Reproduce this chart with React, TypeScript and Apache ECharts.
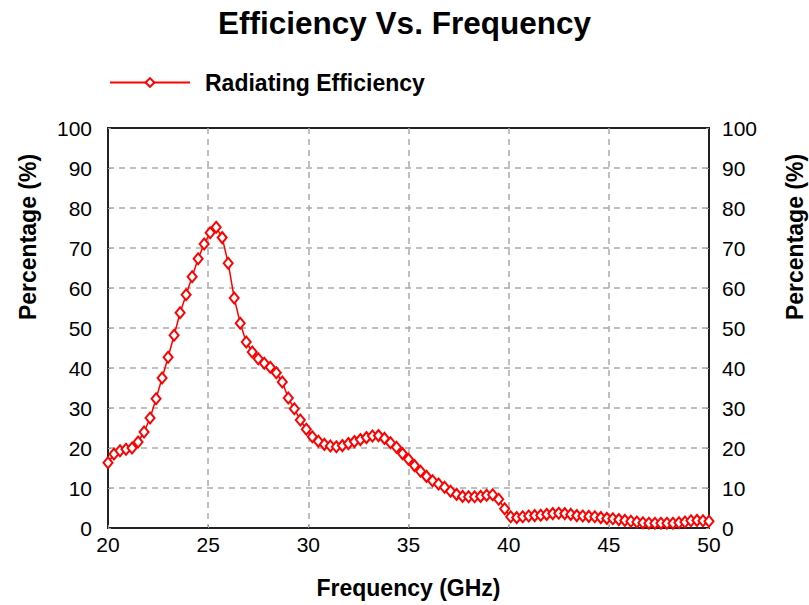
import React, { useEffect, useRef } from "react";
import * as echarts from "echarts";

// Sweep frequencies (GHz)
const frequencies: number[] = [
  20.0, 20.3, 20.6, 20.9, 21.2, 21.5, 21.8, 22.1, 22.4, 22.7,
  23.0, 23.3, 23.6, 23.9, 24.2, 24.5, 24.8, 25.1, 25.4, 25.7,
  26.0, 26.3, 26.6, 26.9, 27.2, 27.5, 27.8, 28.1, 28.4, 28.7,
  29.0, 29.3, 29.6, 29.9, 30.2, 30.5, 30.8, 31.1, 31.4, 31.7,
  32.0, 32.3, 32.6, 32.9, 33.2, 33.5, 33.8, 34.1, 34.4, 34.7,
  35.0, 35.3, 35.6, 35.9, 36.2, 36.5, 36.8, 37.1, 37.4, 37.7,
  38.0, 38.3, 38.6, 38.9, 39.2, 39.5, 39.8, 40.1, 40.4, 40.7,
  41.0, 41.3, 41.6, 41.9, 42.2, 42.5, 42.8, 43.1, 43.4, 43.7,
  44.0, 44.3, 44.6, 44.9, 45.2, 45.5, 45.8, 46.1, 46.4, 46.7,
  47.0, 47.3, 47.6, 47.9, 48.2, 48.5, 48.8, 49.1, 49.4, 49.7,
  50.0,
];

// Radiating efficiency (%)
const efficiency: number[] = [
  16.3, 18.5, 19.3, 19.7, 20.0, 21.5, 24.0, 27.5, 32.3, 37.5,
  42.7, 48.2, 53.8, 58.3, 62.8, 67.3, 71.0, 73.8, 75.2, 72.6,
  66.2, 57.5, 51.2, 46.5, 44.0, 42.3, 41.2, 40.2, 38.8, 36.5,
  32.5, 29.8, 27.0, 24.7, 22.8, 21.7, 20.9, 20.5, 20.3, 20.6,
  21.1, 21.6, 22.1, 22.6, 23.0, 23.1, 22.4, 21.3, 20.2, 18.6,
  17.2, 15.6, 14.2, 12.9, 11.8, 11.0, 10.2, 9.2, 8.4, 7.9,
  7.8, 7.8, 7.9, 8.2, 8.3, 7.2, 4.8, 2.8, 2.6, 2.8,
  3.0, 3.1, 3.2, 3.4, 3.6, 3.7, 3.6, 3.4, 3.1, 3.0,
  2.9, 2.8, 2.6, 2.4, 2.3, 2.1, 1.9, 1.7, 1.5, 1.3,
  1.2, 1.2, 1.2, 1.2, 1.2, 1.3, 1.5, 1.8, 1.9, 1.8,
  1.7,
];

const FONT = "'Liberation Sans', Arial, sans-serif";
const RED = "#ff0000";
const GRID_DASH = { color: "#aaaaaa", width: 1.5, type: [6, 5] as number[] };
const TICK_FONT = 21;
const NAME_FONT = 23;

export default function App() {
  const ref = useRef<HTMLDivElement>(null);

  useEffect(() => {
    if (!ref.current) return;
    const chart = echarts.init(ref.current, undefined, { renderer: "svg" });

    const points = frequencies.map((f, i) => [f, efficiency[i]]);

    const yAxisBase = {
      type: "value" as const,
      min: 0,
      max: 100,
      interval: 10,
      axisLine: { show: true, lineStyle: { color: "#222", width: 2 } },
      axisTick: { show: true, inside: true, length: 3, lineStyle: { color: "#999" } },
    };

    const yName = (x: number) => ({
      type: "text",
      x,
      y: 237,
      rotation: Math.PI / 2,
      style: {
        text: "Percentage (%)",
        fontSize: NAME_FONT,
        fontWeight: "bold",
        fill: "#000",
        fontFamily: FONT,
        align: "center",
        verticalAlign: "middle",
      },
    });

    chart.setOption({
      animation: false,
      backgroundColor: "#ffffff",
      title: {
        text: "Efficiency Vs. Frequency",
        left: "center",
        top: 2,
        textStyle: { fontSize: 31.5, fontWeight: "bold", color: "#000", fontFamily: FONT },
      },
      legend: {
        left: 104,
        top: 66,
        itemWidth: 80,
        itemHeight: 11,
        data: ["Radiating Efficiency"],
        textStyle: {
          fontSize: NAME_FONT,
          fontWeight: "bold",
          color: "#000",
          fontFamily: FONT,
          padding: [0, 0, 0, 10],
        },
      },
      grid: {
        left: 108,
        right: 100,
        top: 128,
        bottom: 77,
        show: true,
        borderColor: "#222",
        borderWidth: 2,
      },
      xAxis: {
        type: "value",
        min: 20,
        max: 50,
        interval: 5,
        name: "Frequency (GHz)",
        nameLocation: "middle",
        nameGap: 48,
        nameTextStyle: { fontSize: NAME_FONT, fontWeight: "bold", color: "#000", fontFamily: FONT },
        axisLine: { show: true, lineStyle: { color: "#222", width: 2 } },
        axisTick: { show: true, inside: true, length: 3, lineStyle: { color: "#999" } },
        axisLabel: { color: "#000", fontSize: TICK_FONT, fontFamily: FONT, margin: 6 },
        splitLine: { show: true, showMinLine: false, showMaxLine: false, lineStyle: GRID_DASH },
      },
      yAxis: [
        {
          ...yAxisBase,
          position: "left",
          axisLabel: { color: "#000", fontSize: TICK_FONT, fontFamily: FONT, margin: 16 },
          splitLine: { show: true, showMinLine: false, showMaxLine: false, lineStyle: GRID_DASH },
        },
        {
          ...yAxisBase,
          position: "right",
          axisLabel: { color: "#000", fontSize: TICK_FONT, fontFamily: FONT, margin: 13 },
          splitLine: { show: false },
        },
      ],
      graphic: [yName(28), yName(795)],
      series: [
        {
          name: "Radiating Efficiency",
          type: "line",
          data: points,
          yAxisIndex: 0,
          symbol: "emptyDiamond",
          symbolSize: [9, 11],
          showAllSymbol: true,
          lineStyle: { color: RED, width: 1.5 },
          itemStyle: { color: RED, borderColor: RED, borderWidth: 1.3 },
          z: 5,
        },
      ],
    });

    return () => chart.dispose();
  }, []);

  return (
    <div
      ref={ref}
      style={{ position: "fixed", left: 0, top: 0, width: 809, height: 605 }}
    />
  );
}
